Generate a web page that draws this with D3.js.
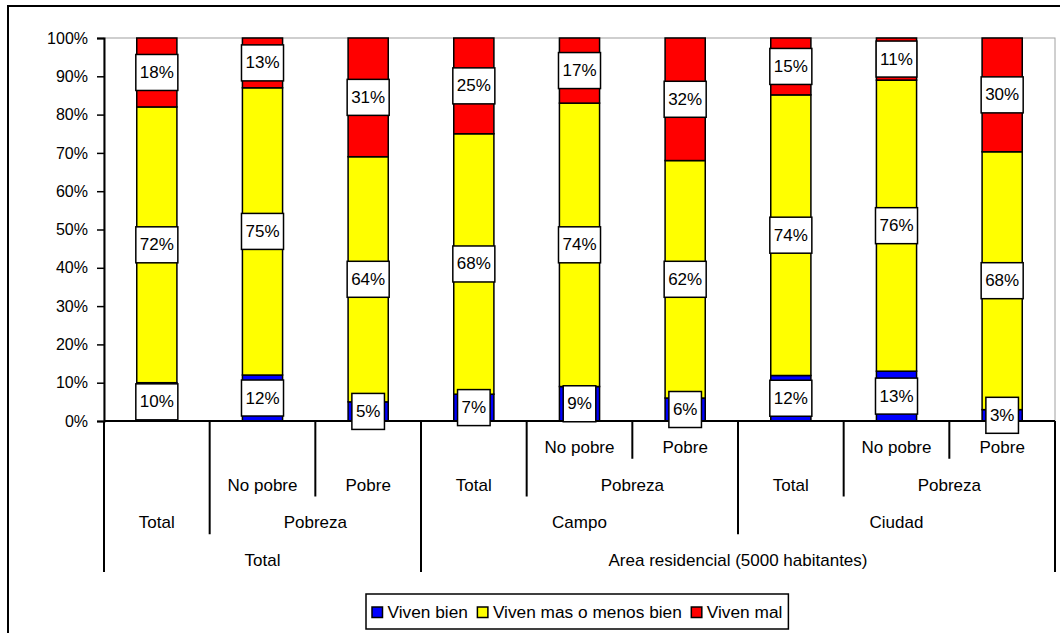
<!DOCTYPE html>
<html>
<head>
<meta charset="utf-8">
<script src="https://cdn.jsdelivr.net/npm/d3@7/dist/d3.min.js"></script>
<style>
  html, body { margin: 0; padding: 0; background: #fff; }
  svg { display: block; font-family: Arial, "Liberation Sans", sans-serif; }
</style>
</head>
<body>
<svg id="chart" width="1060" height="633"></svg>
<script>
// Leaf categories (one bar each)
const categories = ["Total", "No pobre", "Pobre", "Total", "No pobre", "Pobre", "Total", "No pobre", "Pobre"];

// Series values, in percent
const vivenBien = [10, 12, 5, 7, 9, 6, 12, 13, 3];
const vivenMasOMenosBien = [72, 75, 64, 68, 74, 62, 74, 76, 68];
const vivenMal = [18, 13, 31, 25, 17, 32, 15, 11, 30];

const seriesNames = ["Viven bien", "Viven mas o menos bien", "Viven mal"];
const seriesColors = ["#0000ff", "#ffff00", "#ff0000"];

// Hierarchical category labels: [text, first bar index, end bar index]
const catRow1 = [["No pobre", 4, 5], ["Pobre", 5, 6], ["No pobre", 7, 8], ["Pobre", 8, 9]];
const catRow2 = [["No pobre", 1, 2], ["Pobre", 2, 3], ["Total", 3, 4], ["Pobreza", 4, 6], ["Total", 6, 7], ["Pobreza", 7, 9]];
const catRow3 = [["Total", 0, 1], ["Pobreza", 1, 3], ["Campo", 3, 6], ["Ciudad", 6, 9]];
const catRow4 = [["Total", 0, 3], ["Area residencial (5000 habitantes)", 3, 9]];

const yTicks = [0, 0.1, 0.2, 0.3, 0.4, 0.5, 0.6, 0.7, 0.8, 0.9, 1];

// ---- layout ----
const svg = d3.select("#chart");
const plot = { left: 104, right: 1055, top: 38, bottom: 421 };
const rowH = (572 - plot.bottom) / 4;

// outer chart frame
svg.append("rect")
  .attr("x", 8).attr("y", 6).attr("width", 1070).attr("height", 650)
  .attr("fill", "#fff").attr("stroke", "#000").attr("stroke-width", 2);

const table = categories.map((c, i) => ({
  i,
  "Viven bien": vivenBien[i],
  "Viven mas o menos bien": vivenMasOMenosBien[i],
  "Viven mal": vivenMal[i]
}));

const stacked = d3.stack().keys(seriesNames).offset(d3.stackOffsetExpand)(table);

const x = d3.scaleBand().domain(d3.range(categories.length)).range([plot.left, plot.right]).padding(0);
const barW = x.bandwidth() * 0.38;
const y = d3.scaleLinear().domain([0, 1]).range([plot.bottom, plot.top]);

// plot area frame
svg.append("rect")
  .attr("x", plot.left).attr("y", plot.top)
  .attr("width", plot.right - plot.left).attr("height", plot.bottom - plot.top)
  .attr("fill", "none").attr("stroke", "#a0a0a0").attr("stroke-width", 1);

// value axis
const yAxis = d3.axisLeft(y).tickValues(yTicks).tickFormat(d3.format(".0%")).tickSize(7).tickPadding(9);
const yg = svg.append("g").attr("transform", `translate(${plot.left},0)`).call(yAxis);
yg.select(".domain").attr("stroke", "#000").attr("stroke-width", 2);
yg.selectAll(".tick line").attr("stroke", "#000").attr("stroke-width", 1.5);
yg.selectAll(".tick text").attr("font-size", 16).attr("fill", "#000")
  .attr("font-family", "Arial, 'Liberation Sans', sans-serif");

// bars
const layers = svg.append("g").selectAll("g").data(stacked).join("g")
  .attr("fill", (d, k) => seriesColors[k]);
layers.selectAll("rect").data(d => d).join("rect")
  .attr("x", d => x(d.data.i) + (x.bandwidth() - barW) / 2)
  .attr("y", d => y(d[1]))
  .attr("width", barW)
  .attr("height", d => y(d[0]) - y(d[1]))
  .attr("stroke", "#000").attr("stroke-width", 1.5);

// category axis line and separators
svg.append("line")
  .attr("x1", plot.left).attr("x2", plot.right)
  .attr("y1", plot.bottom).attr("y2", plot.bottom)
  .attr("stroke", "#000").attr("stroke-width", 2);

const catRows = [catRow1, catRow2, catRow3, catRow4];
const depth = new Array(categories.length + 1).fill(-1);
catRows.forEach((row, r) => row.forEach(([, a, b]) => {
  depth[a] = Math.max(depth[a], r);
  depth[b] = Math.max(depth[b], r);
}));
const edgeX = b => b === categories.length ? plot.right : x(b);
svg.append("g").selectAll("line").data(d3.range(categories.length + 1).filter(b => depth[b] >= 0)).join("line")
  .attr("x1", edgeX).attr("x2", edgeX)
  .attr("y1", plot.bottom).attr("y2", b => plot.bottom + (depth[b] + 1) * rowH)
  .attr("stroke", "#000").attr("stroke-width", 2);

catRows.forEach((row, r) => {
  svg.append("g").selectAll("text").data(row).join("text")
    .attr("x", d => (edgeX(d[1]) + edgeX(d[2])) / 2)
    .attr("y", plot.bottom + (r + 0.7) * rowH)
    .attr("text-anchor", "middle").attr("dominant-baseline", "central")
    .attr("font-size", 17).attr("fill", "#000")
    .text(d => d[0]);
});

// data labels
const raw = [vivenBien, vivenMasOMenosBien, vivenMal];
stacked.forEach((layer, k) => {
  layer.forEach(d => {
    const cx = x(d.data.i) + x.bandwidth() / 2;
    const cy = y((d[0] + d[1]) / 2);
    const g = svg.append("g");
    const t = g.append("text")
      .attr("x", cx).attr("y", cy)
      .attr("text-anchor", "middle").attr("dominant-baseline", "central")
      .attr("font-size", 17).attr("fill", "#000")
      .text(raw[k][d.data.i] + "%");
    const w = t.node().getComputedTextLength() + 8;
    g.insert("rect", "text")
      .attr("x", cx - w / 2).attr("y", cy - 18)
      .attr("width", w).attr("height", 36)
      .attr("fill", "#fff").attr("stroke", "#000").attr("stroke-width", 1.5);
  });
});

// legend
const legend = svg.append("g");
const legendBox = legend.append("rect")
  .attr("fill", "#fff").attr("stroke", "#000").attr("stroke-width", 1.5);
let lx = 372;
let textEnd = lx;
const ly = 612;
seriesNames.forEach((name, k) => {
  legend.append("rect")
    .attr("x", lx).attr("y", ly - 5).attr("width", 10.5).attr("height", 10.5)
    .attr("fill", seriesColors[k]).attr("stroke", "#000").attr("stroke-width", 1.5);
  const t = legend.append("text")
    .attr("x", lx + 15.5).attr("y", ly)
    .attr("dominant-baseline", "central")
    .attr("font-size", 17.3).attr("fill", "#000")
    .text(name);
  textEnd = lx + 15.5 + t.node().getComputedTextLength();
  lx = textEnd + 9.5;
});
legendBox.attr("x", 366).attr("y", 594).attr("width", textEnd + 6 - 366).attr("height", 35);
</script>
</body>
</html>
